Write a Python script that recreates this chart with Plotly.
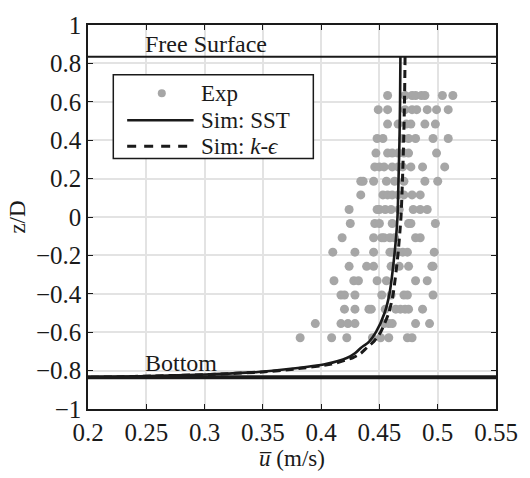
import plotly.graph_objects as go

# ---------------- data ----------------
exp_levels = [0.633, 0.559, 0.484, 0.409, 0.333, 0.261, 0.186, 0.115, 0.039,
              -0.034, -0.108, -0.183, -0.257, -0.332, -0.406, -0.480, -0.555, -0.629]
exp_rows_u = [
    [0.457, 0.472, 0.478, 0.481, 0.486, 0.489, 0.504, 0.513],
    [0.449, 0.457, 0.472, 0.478, 0.482, 0.491, 0.499, 0.509],
    [0.457, 0.466, 0.473, 0.477, 0.489, 0.498],
    [0.448, 0.453, 0.470, 0.475, 0.481, 0.496, 0.509],
    [0.447, 0.457, 0.461, 0.466, 0.471, 0.475, 0.499],
    [0.446, 0.450, 0.454, 0.461, 0.466, 0.470, 0.477, 0.487, 0.506],
    [0.434, 0.436, 0.445, 0.456, 0.463, 0.471, 0.489, 0.500],
    [0.434, 0.453, 0.457, 0.461, 0.466, 0.471, 0.478, 0.485],
    [0.424, 0.448, 0.450, 0.455, 0.460, 0.467, 0.479, 0.485, 0.491],
    [0.425, 0.446, 0.450, 0.461, 0.475, 0.477, 0.498],
    [0.418, 0.445, 0.452, 0.454, 0.459, 0.463, 0.481, 0.485],
    [0.410, 0.429, 0.445, 0.459, 0.461, 0.466, 0.470, 0.474, 0.497],
    [0.424, 0.439, 0.445, 0.460, 0.467, 0.475, 0.495, 0.496],
    [0.411, 0.428, 0.432, 0.448, 0.456, 0.481, 0.491],
    [0.417, 0.420, 0.429, 0.452, 0.460, 0.471, 0.474, 0.496],
    [0.420, 0.429, 0.441, 0.443, 0.455, 0.464, 0.468, 0.472, 0.475, 0.487],
    [0.395, 0.417, 0.423, 0.429, 0.454, 0.458, 0.461, 0.481, 0.493],
    [0.382, 0.409, 0.422, 0.444, 0.451, 0.458, 0.474, 0.478],
]

sst_z = [0.835, 0.6, 0.4, 0.2, 0.0, -0.2, -0.4, -0.5, -0.6, -0.65, -0.682, -0.71,
         -0.733, -0.766, -0.792, -0.807, -0.82, -0.828, -0.833, -0.835]
sst_u = [0.468, 0.4677, 0.4672, 0.4664, 0.4655, 0.4628, 0.4586, 0.4544, 0.447, 0.441,
         0.434, 0.429, 0.4225, 0.404, 0.372, 0.346, 0.301, 0.253, 0.22, 0.2]

ke_z = [0.835, 0.6, 0.4, 0.2, 0.0, -0.2, -0.4, -0.5, -0.6, -0.65, -0.682, -0.71,
        -0.733, -0.766, -0.792, -0.807, -0.82, -0.828, -0.833, -0.835]
ke_u = [0.472, 0.4715, 0.4708, 0.4698, 0.4685, 0.4658, 0.4618, 0.458, 0.451, 0.445,
        0.439, 0.434, 0.427, 0.409, 0.377, 0.350, 0.305, 0.256, 0.222, 0.2]

free_surface_z = 0.835
bottom_z = -0.835

x_ticks = [0.2, 0.25, 0.3, 0.35, 0.4, 0.45, 0.5, 0.55]
x_ticktext = ["0.2", "0.25", "0.3", "0.35", "0.4", "0.45", "0.5", "0.55"]
y_ticks = [-1, -0.8, -0.6, -0.4, -0.2, 0, 0.2, 0.4, 0.6, 0.8, 1]
y_ticktext = ["\u22121", "\u22120.8", "\u22120.6", "\u22120.4", "\u22120.2", "0",
              "0.2", "0.4", "0.6", "0.8", "1"]

# ---------------- figure ----------------
exp_u = [u for row in exp_rows_u for u in row]
exp_z = [z for z, row in zip(exp_levels, exp_rows_u) for _ in row]

FONT = "Liberation Serif, Times New Roman, serif"
DARK = "#1a1a1a"
GREY = "#a6a6a6"

fig = go.Figure()
fig.add_trace(go.Scatter(x=exp_u, y=exp_z, mode="markers",
                         marker=dict(color=GREY, size=9, line=dict(width=0)),
                         showlegend=False))
fig.add_trace(go.Scatter(x=ke_u, y=ke_z, mode="lines",
                         line=dict(color=DARK, width=3, dash="8px,5px", shape="spline", smoothing=0.6),
                         showlegend=False))
fig.add_trace(go.Scatter(x=sst_u, y=sst_z, mode="lines",
                         line=dict(color=DARK, width=2.6, shape="spline", smoothing=0.6),
                         showlegend=False))

shapes = [
    dict(type="line", xref="paper", yref="y", x0=0, x1=1, y0=free_surface_z, y1=free_surface_z,
         line=dict(color=DARK, width=2)),
    dict(type="line", xref="paper", yref="y", x0=0, x1=1, y0=bottom_z, y1=bottom_z,
         line=dict(color=DARK, width=4)),
    # legend box
    dict(type="rect", xref="x", yref="y", x0=0.2217, x1=0.3933, y0=0.3052, y1=0.7404,
         line=dict(color=DARK, width=1.5), fillcolor="white", layer="above"),
    dict(type="line", xref="x", yref="y", x0=0.2336, x1=0.2906, y0=0.504, y1=0.504,
         line=dict(color=DARK, width=2.6), layer="above"),
    dict(type="line", xref="x", yref="y", x0=0.2336, x1=0.2906, y0=0.368, y1=0.368,
         line=dict(color=DARK, width=3, dash="9px,8px"), layer="above"),
    dict(type="circle", xref="x", yref="y", xsizemode="pixel", ysizemode="pixel",
         xanchor=0.2633, yanchor=0.645, x0=-4, x1=4, y0=-4, y1=4,
         line=dict(width=0), fillcolor=GREY, layer="above"),
]

annotations = [
    dict(x=0.25, y=free_surface_z, xref="x", yref="y", text="Free Surface", showarrow=False,
         xanchor="left", yanchor="bottom", yshift=-2, xshift=-3,
         font=dict(family=FONT, size=24, color=DARK)),
    dict(x=0.25, y=bottom_z, xref="x", yref="y", text="Bottom", showarrow=False,
         xanchor="left", yanchor="bottom", yshift=-1, xshift=-3,
         font=dict(family=FONT, size=24, color=DARK)),
    dict(x=0.2975, y=0.645, xref="x", yref="y", text="Exp", showarrow=False,
         xanchor="left", yanchor="middle", xshift=-3, font=dict(family=FONT, size=23, color=DARK)),
    dict(x=0.2975, y=0.504, xref="x", yref="y", text="Sim: SST", showarrow=False,
         xanchor="left", yanchor="middle", xshift=-3, font=dict(family=FONT, size=23, color=DARK)),
    dict(x=0.2975, y=0.368, xref="x", yref="y", text="Sim: <i>k</i>-<i>\u03f5</i>", showarrow=False,
         xanchor="left", yanchor="middle", xshift=-3, font=dict(family=FONT, size=23, color=DARK)),
]

fig.update_layout(
    width=530, height=478,
    margin=dict(l=88, r=22, t=12, b=63),
    paper_bgcolor="white", plot_bgcolor="white",
    font=dict(family=FONT, size=24, color=DARK),
    shapes=shapes, annotations=annotations,
    showlegend=False,
)
fig.update_xaxes(range=[0.2, 0.55], tickvals=x_ticks, ticktext=x_ticktext,
                 showgrid=True, gridcolor="#e3e3e3", gridwidth=1.6,
                 showline=True, linecolor=DARK, linewidth=1.5, mirror="ticks",
                 ticks="inside", ticklen=5, tickcolor=DARK, zeroline=False,
                 tickfont=dict(family=FONT, size=25, color=DARK),
                 title=dict(text="<i>u\u0305</i> (m/s)", font=dict(family=FONT, size=23, color=DARK),
                            standoff=4))
fig.update_yaxes(range=[-1, 1], tickvals=y_ticks, ticktext=y_ticktext,
                 showgrid=True, gridcolor="#e3e3e3", gridwidth=1.6,
                 showline=True, linecolor=DARK, linewidth=1.5, mirror="ticks",
                 ticks="inside", ticklen=5, tickcolor=DARK, zeroline=False,
                 tickfont=dict(family=FONT, size=25, color=DARK),
                 title=dict(text="z/D", font=dict(family=FONT, size=23, color=DARK), standoff=4))

fig.write_html("out.html")
